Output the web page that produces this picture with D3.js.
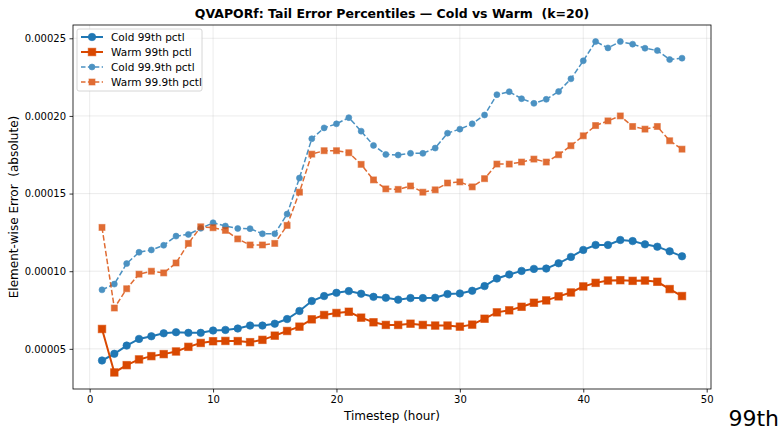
<!DOCTYPE html>
<html>
<head>
<meta charset="utf-8">
<script src="https://cdn.jsdelivr.net/npm/d3@7"></script>
<style>
  body { margin: 0; background: #fff; }
  svg { font-family: "DejaVu Sans", sans-serif; }
</style>
</head>
<body>
<div id="chart"></div>
<script>
// values are in units of 1e-5
var timesteps = d3.range(1, 49);
var cold99 = [4.25, 4.68, 5.21, 5.64, 5.81, 6.0, 6.07, 6.03, 6.03, 6.18, 6.22, 6.31,
  6.5, 6.5, 6.62, 6.92, 7.44, 8.08, 8.4, 8.61, 8.72, 8.55, 8.35, 8.29,
  8.17, 8.27, 8.27, 8.29, 8.53, 8.57, 8.74, 9.04, 9.53, 9.79, 10.02, 10.15,
  10.17, 10.51, 10.92, 11.37, 11.69, 11.69, 12.01, 11.94, 11.73, 11.58, 11.28, 10.96];
var warm99 = [6.28, 3.48, 3.95, 4.32, 4.53, 4.66, 4.83, 5.13, 5.38, 5.49, 5.51, 5.5,
  5.43, 5.58, 5.85, 6.15, 6.43, 6.9, 7.18, 7.31, 7.39, 7.01, 6.71, 6.54,
  6.54, 6.62, 6.54, 6.5, 6.5, 6.43, 6.56, 6.94, 7.35, 7.48, 7.71, 7.97,
  8.12, 8.38, 8.63, 9.02, 9.25, 9.4, 9.42, 9.38, 9.4, 9.32, 8.85, 8.4];
var cold999 = [8.8, 9.17, 10.49, 11.22, 11.37, 11.67, 12.26, 12.37, 12.76, 13.12, 12.91, 12.75,
  12.74, 12.41, 12.41, 13.68, 16.0, 18.53, 19.23, 19.49, 19.89, 19.02, 18.1, 17.52,
  17.48, 17.59, 17.59, 17.93, 18.89, 19.15, 19.49, 20.06, 21.37, 21.56, 21.11, 20.81,
  21.07, 21.57, 22.39, 23.55, 24.79, 24.38, 24.79, 24.62, 24.36, 24.21, 23.63, 23.72];
var warm999 = [12.82, 7.63, 8.87, 9.81, 10.0, 9.89, 10.53, 11.79, 12.86, 12.8, 12.63, 12.08,
  11.69, 11.69, 11.79, 12.95, 15.09, 17.54, 17.76, 17.76, 17.63, 16.88, 15.88, 15.3,
  15.27, 15.49, 15.09, 15.24, 15.68, 15.75, 15.43, 15.96, 16.9, 16.9, 17.03, 17.22,
  17.03, 17.5, 18.08, 18.72, 19.38, 19.68, 20.0, 19.32, 19.15, 19.32, 18.4, 17.86];

var xTicks = [0, 10, 20, 30, 40, 50];
var yTicks = [5, 10, 15, 20, 25];
var yTickLabels = ["0.00005", "0.00010", "0.00015", "0.00020", "0.00025"];

var series = [
  {name: "Cold 99th pctl", values: cold99, color: "#1f77b4", dash: null, marker: "circle", size: 7.5, lw: 2, alpha: 1},
  {name: "Warm 99th pctl", values: warm99, color: "#d94801", dash: null, marker: "square", size: 7.5, lw: 2, alpha: 1},
  {name: "Cold 99.9th pctl", values: cold999, color: "#1f77b4", dash: "5.5,2.4", marker: "circle", size: 6, lw: 1.5, alpha: 0.8},
  {name: "Warm 99.9th pctl", values: warm999, color: "#d94801", dash: "5.5,2.4", marker: "square", size: 6, lw: 1.5, alpha: 0.8}
];

var width = 781, height = 432;
var margin = {top: 25, right: 70, bottom: 43, left: 73};

var svg = d3.select("#chart").append("svg")
  .attr("width", width)
  .attr("height", height);

var x = d3.scaleLinear().domain([-1.35, 50.35]).range([margin.left, width - margin.right]);
var allVals = cold99.concat(warm99, cold999, warm999);
var yMin = d3.min(allVals), yMax = d3.max(allVals), pad = (yMax - yMin) * 0.05;
var y = d3.scaleLinear().domain([yMin - pad, yMax + pad]).range([height - margin.bottom, margin.top]);

// grid
svg.append("g").selectAll("line.gx")
  .data(xTicks).enter().append("line")
  .attr("x1", function(d) { return x(d); }).attr("x2", function(d) { return x(d); })
  .attr("y1", margin.top).attr("y2", height - margin.bottom)
  .attr("stroke", "#b0b0b0").attr("stroke-opacity", 0.3).attr("stroke-width", 0.8);
svg.append("g").selectAll("line.gy")
  .data(yTicks).enter().append("line")
  .attr("y1", function(d) { return y(d); }).attr("y2", function(d) { return y(d); })
  .attr("x1", margin.left).attr("x2", width - margin.right)
  .attr("stroke", "#b0b0b0").attr("stroke-opacity", 0.3).attr("stroke-width", 0.8);

// axes
var xAxis = d3.axisBottom(x).tickValues(xTicks).tickSize(3.5).tickPadding(3.5).tickSizeOuter(0);
var yAxis = d3.axisLeft(y).tickValues(yTicks).tickSize(3.5).tickPadding(3.5).tickSizeOuter(0)
  .tickFormat(function(d, i) { return yTickLabels[i]; });

var gx = svg.append("g").attr("transform", "translate(0," + (height - margin.bottom) + ")").call(xAxis);
var gy = svg.append("g").attr("transform", "translate(" + margin.left + ",0)").call(yAxis);
[gx, gy].forEach(function(g) {
  g.selectAll("text").attr("font-size", 10).attr("fill", "#000").attr("font-family", "DejaVu Sans, sans-serif");
  g.selectAll("line").attr("stroke", "#000").attr("stroke-width", 0.8);
  g.select(".domain").remove();
});

// frame
svg.append("rect")
  .attr("x", margin.left).attr("y", margin.top)
  .attr("width", width - margin.left - margin.right)
  .attr("height", height - margin.top - margin.bottom)
  .attr("fill", "none").attr("stroke", "#000").attr("stroke-width", 0.8);

var line = d3.line()
  .x(function(d, i) { return x(timesteps[i]); })
  .y(function(d) { return y(d); });

function drawMarker(sel, s) {
  if (s.marker === "circle") {
    sel.append("circle").attr("r", s.size / 2);
  } else {
    sel.append("rect").attr("x", -s.size / 2).attr("y", -s.size / 2)
      .attr("width", s.size).attr("height", s.size);
  }
  sel.selectAll("circle,rect").attr("fill", s.color).attr("stroke", s.color)
    .attr("stroke-opacity", 0.6).attr("stroke-width", 1);
}

series.forEach(function(s) {
  var g = svg.append("g").attr("opacity", s.alpha);
  g.append("path")
    .attr("d", line(s.values))
    .attr("fill", "none")
    .attr("stroke", s.color)
    .attr("stroke-width", s.lw)
    .attr("stroke-dasharray", s.dash);
  g.selectAll("g.m").data(s.values).enter().append("g")
    .attr("transform", function(d, i) { return "translate(" + x(timesteps[i]) + "," + y(d) + ")"; })
    .each(function() { drawMarker(d3.select(this), s); });
});

// legend
var lg = svg.append("g").attr("transform", "translate(77,29)");
lg.append("rect").attr("width", 125).attr("height", 62).attr("rx", 2)
  .attr("fill", "#fff").attr("fill-opacity", 0.8).attr("stroke", "#ccc").attr("stroke-width", 0.8);
series.forEach(function(s, i) {
  var ry = 8 + i * 15;
  var row = lg.append("g").attr("transform", "translate(0," + ry + ")").attr("opacity", s.alpha);
  row.append("line").attr("x1", 4).attr("x2", 26).attr("y1", 0).attr("y2", 0)
    .attr("stroke", s.color).attr("stroke-width", s.lw).attr("stroke-dasharray", s.dash ? "4.5,2.4" : null);
  var m = row.append("g").attr("transform", "translate(15,0)");
  drawMarker(m, s);
  lg.append("text").attr("x", 34).attr("y", ry).attr("dy", "0.35em")
    .attr("font-size", 10.5).attr("fill", "#000").text(s.name);
});

// labels
svg.append("text")
  .attr("x", (margin.left + width - margin.right) / 2).attr("y", 18)
  .attr("text-anchor", "middle").attr("font-size", 12.5).attr("font-weight", "bold")
  .style("white-space", "pre")
  .text("QVAPORf: Tail Error Percentiles \u2014 Cold vs Warm  (k=20)");
svg.append("text")
  .attr("x", (margin.left + width - margin.right) / 2).attr("y", 420)
  .attr("text-anchor", "middle").attr("font-size", 12)
  .text("Timestep (hour)");
svg.append("text")
  .attr("transform", "translate(18," + ((margin.top + height - margin.bottom) / 2) + ") rotate(-90)")
  .attr("text-anchor", "middle").attr("font-size", 12)
  .style("white-space", "pre")
  .text("Element-wise Error  (absolute)");

svg.append("text")
  .attr("x", 779).attr("y", 426)
  .attr("text-anchor", "end")
  .attr("font-size", 22)
  .attr("fill", "#000")
  .text("99th");
</script>
</body>
</html>
